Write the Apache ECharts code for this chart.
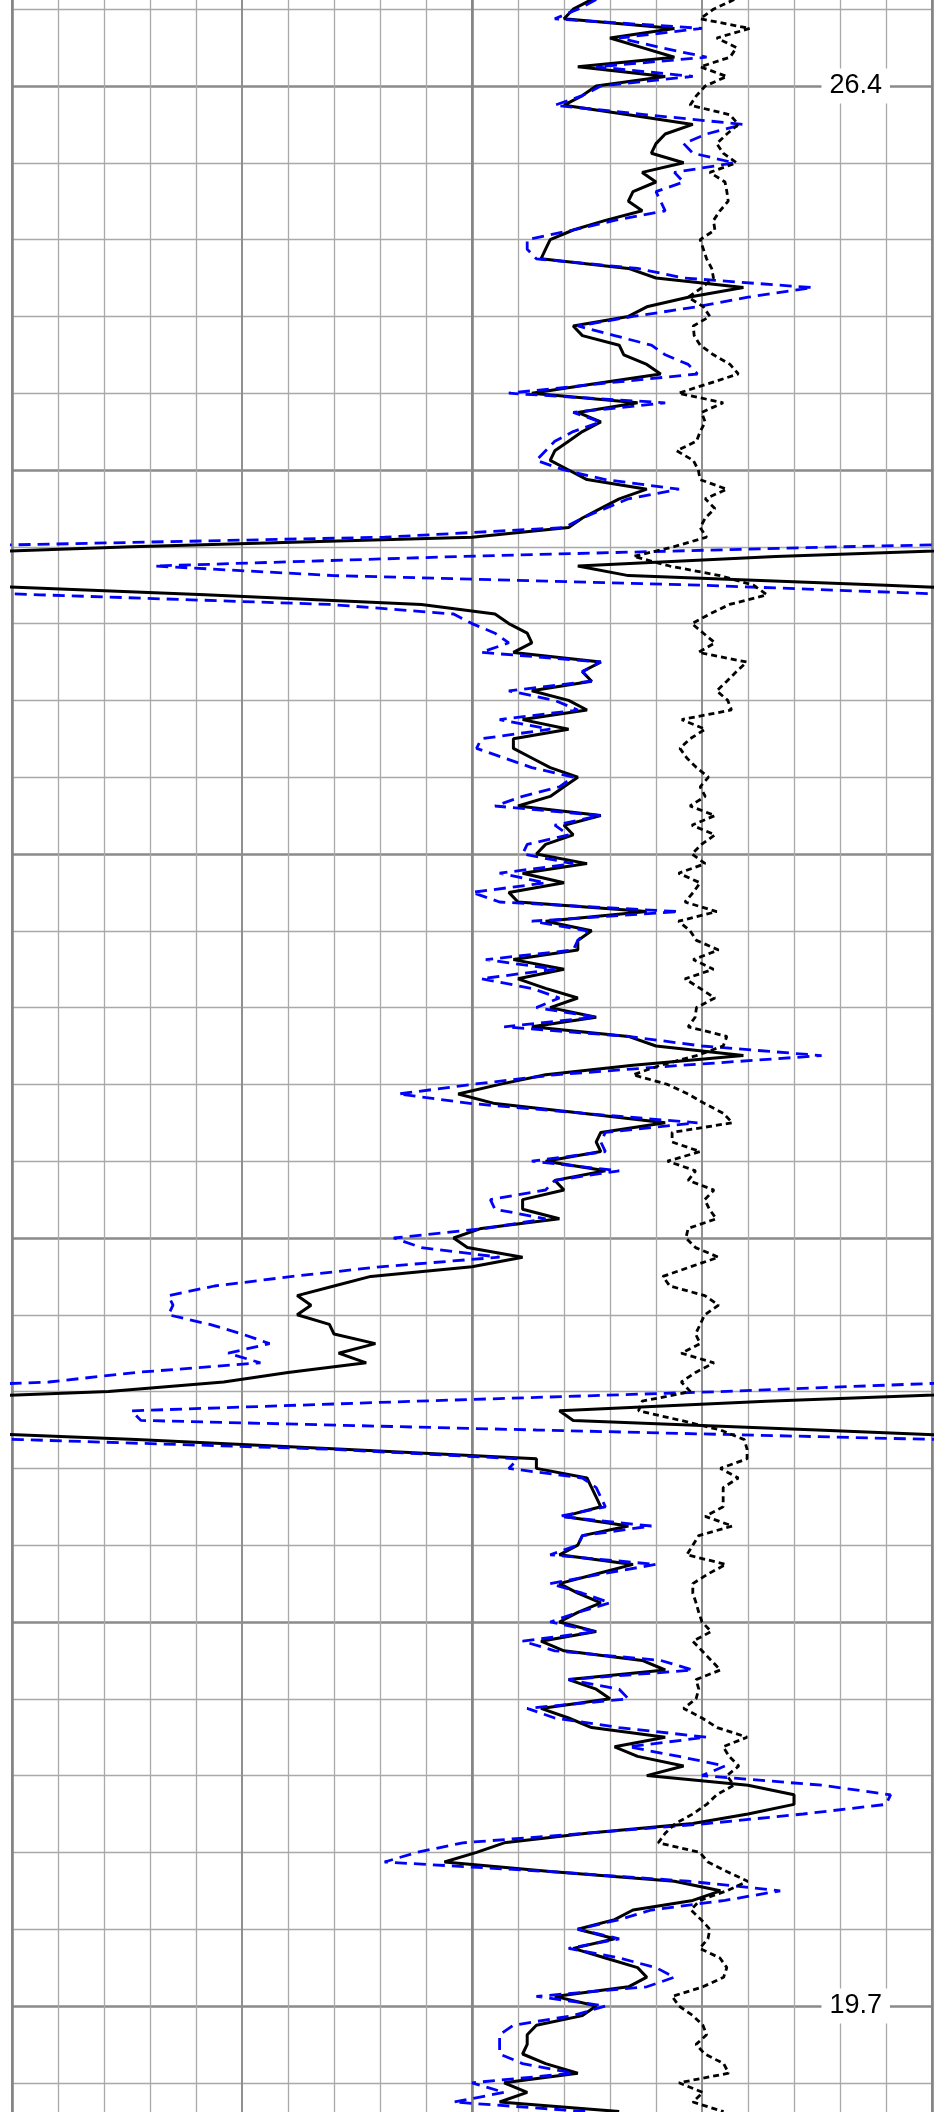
<!DOCTYPE html>
<html><head><meta charset="utf-8">
<script src="https://cdn.jsdelivr.net/npm/echarts@6/dist/echarts.min.js"></script>
<style>html,body{margin:0;padding:0;background:#fff;overflow:hidden;width:947px;height:2112px;position:relative}
#c{position:absolute;left:0;top:-298px;width:947px;height:2688px}</style>
</head><body><div id="c"></div>
<script>
// depth samples (top to bottom)
const depth = [
26.7015,26.668,26.6345,26.601,26.5675,26.534,26.5005,26.467,26.4335,
26.4,26.3665,26.333,26.2995,26.266,26.2325,26.199,26.1655,
26.132,26.0985,26.065,26.0315,25.998,25.9645,25.931,25.8975,
25.864,25.8305,25.797,25.7635,25.73,25.6965,25.663,25.6295,
25.596,25.5625,25.529,25.4955,25.462,25.4285,25.395,25.3615,
25.328,25.2945,25.261,25.2275,25.194,25.1605,25.127,25.0935,
25.06,25.0265,24.993,24.9595,24.926,24.8925,24.859,24.8255,
24.792,24.7585,24.725,24.6915,24.658,24.6245,24.591,24.5575,
24.524,24.4905,24.457,24.4235,24.39,24.3565,24.323,24.2895,
24.256,24.2225,24.189,24.1555,24.122,24.0885,24.055,24.0215,
23.988,23.9545,23.921,23.8875,23.854,23.8205,23.787,23.7535,
23.72,23.6865,23.653,23.6195,23.586,23.5525,23.519,23.4855,
23.452,23.4185,23.385,23.3515,23.318,23.2845,23.251,23.2175,
23.184,23.1505,23.117,23.0835,23.05,23.0165,22.983,22.9495,
22.916,22.8825,22.849,22.8155,22.782,22.7485,22.715,22.6815,
22.648,22.6145,22.581,22.5475,22.514,22.4805,22.447,22.4135,
22.38,22.3465,22.313,22.2795,22.246,22.2125,22.179,22.1455,
22.112,22.0785,22.045,22.0115,21.978,21.9445,21.911,21.8775,
21.844,21.8105,21.777,21.7435,21.71,21.6765,21.643,21.6095,
21.576,21.5425,21.509,21.4755,21.442,21.4085,21.375,21.3415,
21.308,21.2745,21.241,21.2075,21.174,21.1405,21.107,21.0735,
21.04,21.0065,20.973,20.9395,20.906,20.8725,20.839,20.8055,
20.772,20.7385,20.705,20.6715,20.638,20.6045,20.571,20.5375,
20.504,20.4705,20.437,20.4035,20.37,20.3365,20.303,20.2695,
20.236,20.2025,20.169,20.1355,20.102,20.0685,20.035,20.0015,
19.968,19.9345,19.901,19.8675,19.834,19.8005,19.767,19.7335,
19.7,19.6665,19.633,19.5995,19.566,19.5325,19.499,19.4655,
19.432,19.3985,19.365,19.3315
];
// black solid curve
const curveSolid = [
126,122,120,144,130,137,144,123,142,127,
124,120,134,148,142,140,139,146,137,140,
135,134,137,129,122,117,116,115,134,140,
159,147,138,134,122,124,132,133,138,141,
127,113,136,123,128,124,121,118,117,121,
125,138,132,128,124,121,100,26,-34,-77,
-66,-10,42,89,105,108,112,113,109,128,
124,126,113,121,125,111,121,109,109,113,
117,123,120,117,110,128,120,122,116,114,
125,111,120,108,110,138,116,126,123,123,
109,120,110,116,123,117,127,113,134,140,
159,135,116,106,97,105,124,142,128,127,
128,116,129,118,120,111,111,119,102,96,
99,111,100,78,70,62,65,62,69,70,
79,71,77,60,46,21,-36,-81,-78,-25,
27,72,114,114,125,126,127,128,120,134,
124,123,119,135,127,119,123,128,123,119,
127,115,120,137,142,121,127,130,115,121,
126,142,131,136,146,138,160,170,170,160,
148,125,107,101,94,117,144,154,148,135,
131,123,131,122,129,136,138,134,118,127,
124,114,112,112,111,116,123,107,112,106,
132
];
// blue dashed curve
const curveBlue = [
127,123,118,150,132,141,151,127,148,128,
124,118,138,159,151,146,148,157,144,146,
140,141,142,131,122,112,112,114,136,146,
174,160,149,135,123,131,139,142,147,149,
128,108,142,122,128,122,118,116,114,120,
129,145,134,129,124,120,81,-20,-102,-169,
-130,-50,6,69,96,100,105,108,102,128,
124,126,108,118,123,106,117,102,101,107,
113,122,119,111,105,128,118,121,112,111,
122,106,116,100,106,145,113,125,123,122,
103,118,102,113,119,114,127,107,134,150,
176,146,118,100,84,100,124,149,129,128,
129,113,132,118,116,104,105,116,103,83,
89,106,80,61,44,34,35,34,43,50,
56,47,54,27,8,-46,-112,-174,-172,-86,
2,69,110,108,124,127,128,129,119,139,
124,123,117,140,128,117,124,130,123,117,
127,111,118,141,148,121,132,134,112,118,
132,151,134,145,155,150,176,191,190,172,
151,125,98,88,81,117,147,167,155,139,
132,123,132,121,132,140,144,138,114,129,
122,109,106,106,106,111,122,100,107,96,
125
];
// black dotted curve
const curveDotted = [
157,152.5,149.6,160.4,153.2,157.5,156.1,149.6,155.4,150.7,
148.8,147.4,156.1,157.9,155.4,153.2,154.6,157.5,151.7,155,
155.4,155.7,153.9,152.5,152.8,149.6,150.3,151,152.1,152.5,
150,147,150.3,151.7,148.1,148.3,149.6,152.5,156.1,157.9,
151.4,144.9,154.6,149.9,150.7,149.6,148.8,144.5,148.1,149.2,
149.6,155.4,150.7,152.8,150.7,149.6,151,143.8,135.1,143,
153.9,161.2,164.1,156,151.7,147.8,150.3,152.8,149.2,159.7,
157.5,155.4,153.2,155.6,156.4,145.6,150.7,147.4,145.2,146.7,
148.8,151.4,149.6,150.7,147.4,152.8,147.8,152.8,149.9,147.8,
150.7,144.9,149.6,148.1,146.3,153.2,144.9,147.4,148.8,153.6,
148.1,152.5,146.3,149.6,152.8,148.8,148.5,147,155.4,154.6,
148.8,141,135,142.5,147,150.6,154.6,156.6,143.5,143.5,
149.6,142.5,148.6,147,152.6,150.6,151.6,153.1,147,146.5,
148.6,153.6,147.5,141.5,143,150.6,153.6,150.6,149.6,148.6,
149.6,145.5,152.6,148.6,145.5,147.5,137,136.2,145.4,154,
159.2,159.8,159.8,154,157.9,154.6,154.6,154.6,150.7,156.6,
149.3,148,146.7,155.2,151.3,148,148,148.7,149.3,150,
152,148,150,152,154,148.7,149.3,148.7,146,150,
153.3,159.8,154.6,155.9,158,155.4,156.9,153.2,151,148,
144.2,142,140.5,149.5,151.3,155.4,159.9,155.4,149.5,147.6,
149.8,151.7,151.3,149.5,153.9,155.4,154.7,150.2,143.5,145,
148,150.2,151,148.7,150.6,154.7,155.8,145,150.2,148,
154.7
];
const depthLabels = [26.4, 19.7];
const scaleWidth = 200; // track width; values below 0 wrap back in from the right

const pts = (arr, shift) => depth.map((d, i) => [arr[i] + shift, d]);

const solidStyle = { color: '#000', width: 3, type: 'solid' };
const blueStyle = { color: '#0000ff', width: 2.8, type: [12, 7] };
const dotStyle = { color: '#000', width: 2.8, type: [6, 4] };

const mk = (arr, shift, style, z) => ({
  type: 'line', data: pts(arr, shift), showSymbol: false, symbol: 'none',
  lineStyle: style, z: z, clip: true, silent: true
});

const hidden = { axisLine: { show: false }, axisTick: { show: false }, axisLabel: { show: false } };

const chart = echarts.init(document.getElementById('c'), null, { renderer: 'canvas' });
chart.setOption({
  animation: false,
  backgroundColor: '#fff',
  grid: { left: 12, right: 15, top: 0, bottom: 0, containLabel: false },
  xAxis: [
    Object.assign({
      type: 'value', min: 0, max: 200, interval: 50,
      splitLine: { show: true, lineStyle: { color: '#909090', width: 2 } },
      minorTick: { show: false, splitNumber: 5 },
      minorSplitLine: { show: true, lineStyle: { color: '#a9a9a9', width: 1.3 } }
    }, hidden),
    Object.assign({
      type: 'value', min: 0, max: 200, interval: 100, position: 'top',
      splitLine: { show: true, lineStyle: { color: '#858585', width: 2.6 } },
      minorSplitLine: { show: false }
    }, hidden)
  ],
  yAxis: {
    type: 'value', min: 18.36, max: 27.74, interval: 1.34, position: 'right',
    axisLine: { show: false }, axisTick: { show: false },
    splitLine: { show: true, lineStyle: { color: '#8a8a8a', width: 2.5 } },
    minorTick: { show: false, splitNumber: 5 },
    minorSplitLine: { show: true, lineStyle: { color: '#a9a9a9', width: 1.3 } },
    axisLabel: {
      show: true, inside: true, margin: 42,
      formatter: function (v) {
        for (const l of depthLabels) if (Math.abs(v - l) < 1e-6) return '{b|' + l.toFixed(1) + '}';
        return '';
      },
      rich: { b: { backgroundColor: '#fff', padding: [4, 8], fontSize: 27, lineHeight: 26,
        color: '#000', fontFamily: '"Liberation Sans", Arial, sans-serif' } }
    }
  },
  series: [
    mk(curveSolid, 0, solidStyle, 2),
    mk(curveSolid, scaleWidth, solidStyle, 2),
    mk(curveBlue, 0, blueStyle, 3),
    mk(curveBlue, scaleWidth, blueStyle, 3),
    mk(curveDotted, 0, dotStyle, 4)
  ]
});
</script>
</body></html>
